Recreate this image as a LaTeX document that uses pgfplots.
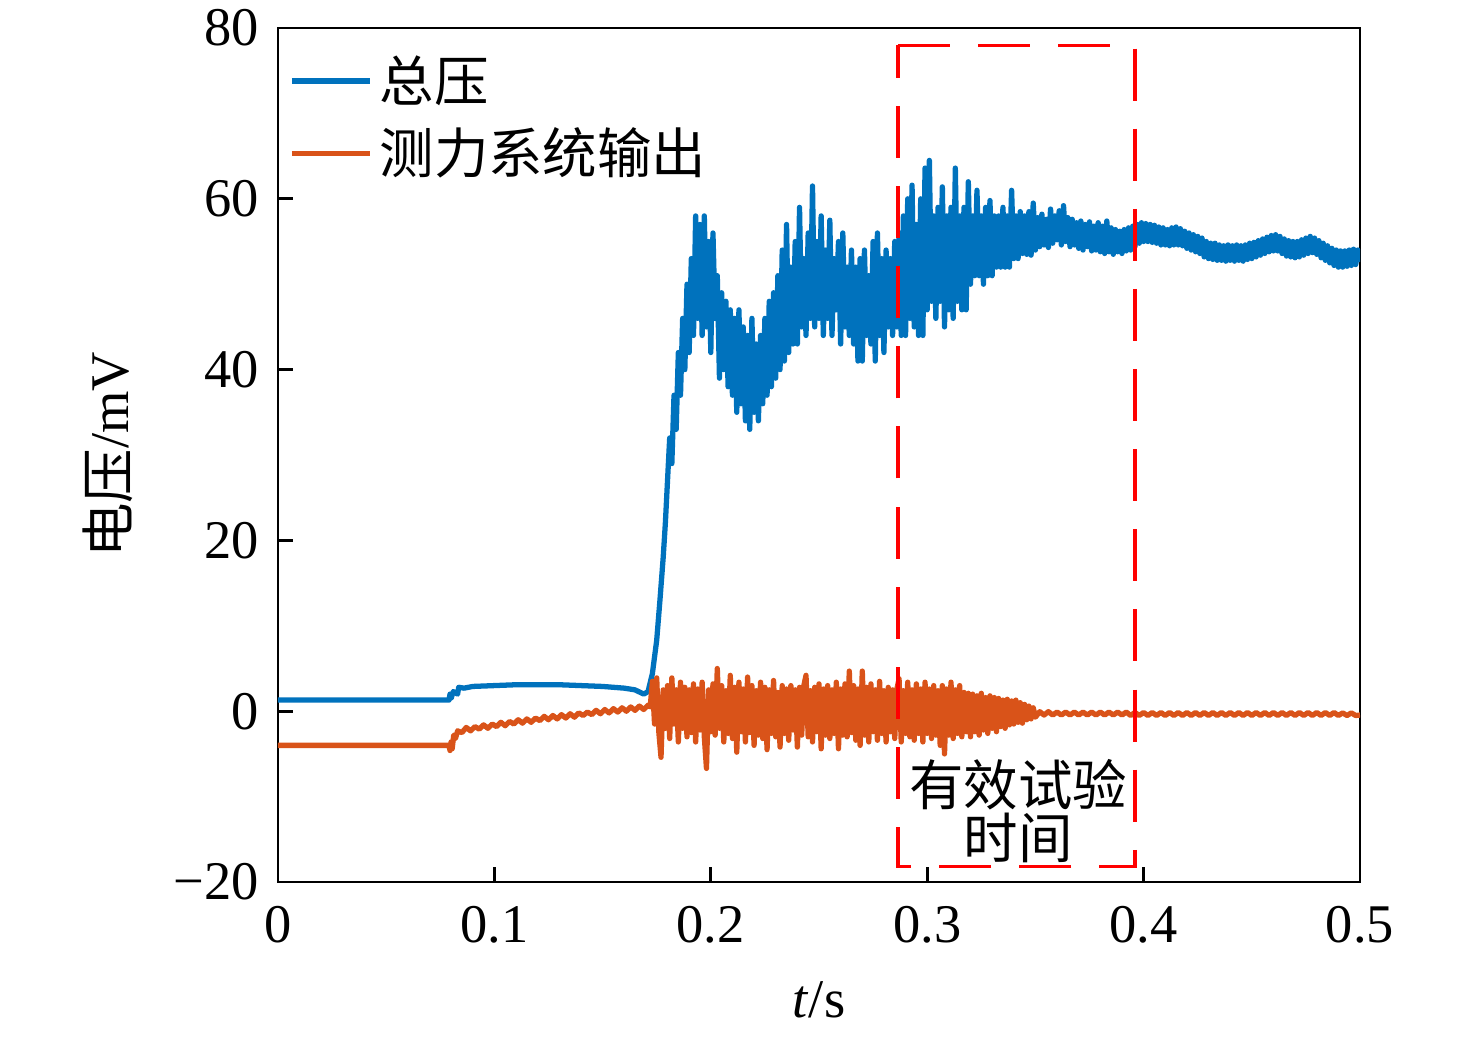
\documentclass[border=0pt]{standalone}
\usepackage{fontspec}
\setmainfont{Liberation Serif}
\newfontfamily\cjk{Noto Sans CJK SC}
\usepackage{pgfplots}
\pgfplotsset{compat=1.18}
\definecolor{mblue}{RGB}{0,114,189}
\definecolor{morange}{RGB}{217,83,25}
\newcommand{\fs}{\fontsize{15.5}{18.6}\selectfont}
\begin{document}
\begin{tikzpicture}
\useasboundingbox (-2.78,-1.54) rectangle (11.98,8.82);
\begin{axis}[
  scale only axis, width=10.82cm, height=8.54cm,
  xmin=0, xmax=0.5, ymin=-20, ymax=80,
  xtick={0,0.1,0.2,0.3,0.4,0.5}, xticklabels={0,0.1,0.2,0.3,0.4,0.5},
  ytick={-20,0,20,40,60,80}, yticklabels={−20,0,20,40,60,80},
  tick align=inside, xtick pos=left, ytick pos=left,
  major tick length=0.15cm,
  tick style={line width=0.8pt, black},
  axis line style={line width=0.8pt},
  tick label style={font=\fs},
  xticklabel style={yshift=-0.12cm},
  yticklabel style={xshift=-0.07cm},
  label style={font=\fs},
  xlabel={\textit{t}/s}, ylabel={{\cjk 电压}/mV},
  xlabel style={at={(axis description cs:0.5,-0.138)}, anchor=center},
  ylabel style={at={(axis description cs:-0.157,0.5)}, anchor=center},
  legend style={at={(axis description cs:0.0,0.985)}, anchor=north west, draw=none, fill=none, font=\fs\cjk, row sep=2pt},
  legend cell align=left,
  legend image code/.code={\draw[#1] (0cm,0cm) -- (0.78cm,0cm);},
]
\addplot[mblue, line width=1.5pt, line join=round, mark=none] coordinates {
(0,1.3) (0.079,1.3) (0.0795,2.0) (0.080,1.5) (0.081,2.3) (0.083,2.0) (0.0835,2.8) (0.086,2.7) (0.09,2.9) (0.1,3.0) (0.11,3.1) (0.12,3.1) (0.13,3.1) (0.14,3.0) (0.15,2.9) (0.16,2.7) (0.165,2.5) (0.169,2.0) (0.171,2.3) (0.173,4.4) (0.175,8.3) (0.1765,13) (0.178,18) (0.179,22)
(0.180,27) (0.181,32) (0.182,29) (0.183,37) (0.184,33) (0.185,42) (0.186,37) (0.187,46) (0.188,40) (0.189,50)
(0.190,42) (0.191,53) (0.192,44) (0.193,58) (0.194,46) (0.195,57) (0.196,44) (0.197,58) (0.198,45) (0.199,55)
(0.200,42) (0.201,56) (0.202,46) (0.203,51) (0.204,39) (0.205,49) (0.206,40) (0.207,48) (0.208,38) (0.209,47)
(0.210,37) (0.211,46) (0.212,35) (0.213,47) (0.214,36) (0.215,45) (0.216,34) (0.217,44) (0.218,33) (0.219,46)
(0.220,35) (0.221,43) (0.222,34) (0.223,44) (0.224,36) (0.225,46) (0.226,37) (0.227,48) (0.228,38) (0.229,49)
(0.230,39) (0.231,51) (0.232,40) (0.233,54) (0.234,41) (0.235,57) (0.236,42) (0.237,52) (0.238,43) (0.239,55)
(0.240,43) (0.241,59) (0.242,45) (0.243,53) (0.244,44) (0.245,56) (0.246,46) (0.247,61.5) (0.248,45) (0.249,55)
(0.250,46) (0.251,58) (0.252,44) (0.253,54) (0.254,46) (0.255,57.5) (0.256,44) (0.257,53) (0.258,47) (0.259,55)
(0.260,43) (0.261,56) (0.262,45) (0.263,52) (0.264,44) (0.265,54) (0.266,43) (0.267,52) (0.268,41) (0.269,53)
(0.270,41) (0.271,54) (0.272,44) (0.273,51) (0.274,43) (0.275,55) (0.276,41) (0.277,56) (0.278,44) (0.279,53)
(0.280,42) (0.281,54) (0.282,45) (0.283,53) (0.284,44) (0.285,55) (0.286,45) (0.287,56) (0.288,44) (0.289,58)
(0.290,44) (0.291,60) (0.292,46) (0.293,61.6) (0.294,45) (0.295,57) (0.296,44) (0.297,60) (0.298,44) (0.299,63.6)
(0.300,47) (0.301,64.5) (0.302,48) (0.303,58) (0.304,46) (0.305,59) (0.306,48) (0.307,61.4) (0.308,45) (0.309,58)
(0.310,47) (0.311,59) (0.312,46) (0.313,63.6) (0.314,48) (0.315,58) (0.316,47) (0.317,59) (0.318,47) (0.319,62)
(0.320,50) (0.321,58) (0.322,51) (0.323,61) (0.324,51) (0.325,58) (0.326,50) (0.327,59) (0.328,51) (0.329,59.8)
(0.330,51) (0.331,58) (0.332,52) (0.333,58) (0.334,52) (0.335,59) (0.336,52) (0.337,58) (0.338,52) (0.339,61)
(0.340,53) (0.341,58) (0.342,53) (0.343,58.5) (0.344,53.6) (0.345,58) (0.346,53.5) (0.347,58.5) (0.348,53.4) (0.349,59.5)
(0.350,54)
(0.351,57.8) (0.352,54.4) (0.353,58.2) (0.354,54.6) (0.355,57.6) (0.356,54.3) (0.357,58.8) (0.358,54.8) (0.359,58.0) (0.360,55.2)
(0.361,58.6) (0.362,54.6) (0.363,59.2) (0.364,55.0) (0.365,57.8) (0.366,54.4) (0.367,57.6) (0.368,54.6) (0.369,57.2) (0.370,54.2)
(0.371,57.4) (0.372,54.0) (0.373,57.0) (0.374,54.4) (0.375,57.3) (0.376,53.9) (0.377,56.8) (0.378,54.0) (0.379,57.2) (0.380,53.8)
(0.381,56.8) (0.382,53.6) (0.383,57.4) (0.384,53.8) (0.385,56.6) (0.386,53.5) (0.387,56.4) (0.388,53.8) (0.389,56.2) (0.390,53.6)
(0.391,56.4) (0.392,53.9) (0.393,56.6) (0.394,54.0) (0.395,56.8) (0.396,54.4) (0.397,57.0) (0.398,54.8) (0.399,57.2) (0.400,55.0)
(0.401,57.1) (0.402,55.0) (0.403,57.0) (0.404,54.9) (0.405,56.9) (0.406,54.8) (0.407,56.7) (0.408,54.6) (0.409,56.6) (0.410,54.6)
(0.411,56.4) (0.412,54.5) (0.413,56.6) (0.414,54.6) (0.415,56.7) (0.416,54.6) (0.417,56.5) (0.418,54.5) (0.419,56.2) (0.420,54.2)
(0.421,56.0) (0.422,54.0) (0.423,55.8) (0.424,53.8) (0.425,55.6) (0.426,53.6) (0.427,55.4) (0.428,53.2) (0.429,55.0) (0.430,53.0)
(0.431,54.8) (0.432,52.9) (0.433,54.8) (0.434,52.8) (0.435,54.6) (0.436,52.8) (0.437,54.5) (0.438,52.7) (0.439,54.6) (0.440,52.8)
(0.441,54.5) (0.442,52.7) (0.443,54.6) (0.444,52.8) (0.445,54.5) (0.446,52.7) (0.447,54.6) (0.448,52.9) (0.449,54.8) (0.450,53.0)
(0.451,54.9) (0.452,53.2) (0.453,55.1) (0.454,53.4) (0.455,55.3) (0.456,53.6) (0.457,55.5) (0.458,53.8) (0.459,55.7) (0.460,53.9)
(0.461,55.8) (0.462,53.9) (0.463,55.6) (0.464,53.6) (0.465,55.3) (0.466,53.3) (0.467,55.1) (0.468,53.2) (0.469,55.0) (0.470,53.1)
(0.471,55.0) (0.472,53.2) (0.473,55.2) (0.474,53.4) (0.475,55.4) (0.476,53.6) (0.477,55.6) (0.478,53.7) (0.479,55.4) (0.480,53.5)
(0.481,55.1) (0.482,53.1) (0.483,54.8) (0.484,52.8) (0.485,54.5) (0.486,52.5) (0.487,54.2) (0.488,52.2) (0.489,54.0) (0.490,52.0)
(0.491,53.9) (0.492,52.0) (0.493,53.9) (0.494,52.1) (0.495,54.0) (0.496,52.2) (0.497,54.1) (0.498,52.3) (0.499,54.0) (0.500,52.6)
};
\addlegendentry{总压}
\addplot[morange, line width=1.5pt, line join=round, mark=none] coordinates {
(0,-4) (0.0790,-4) (0.0795,-4.6) (0.0800,-3.6) (0.0805,-4.4) (0.0812,-2.8) (0.0820,-3.2) (0.0830,-2.3) (0.085,-2.5) (0.087,-1.9) (0.089,-2.3) (0.091,-1.8) (0.093,-2.1) (0.095,-1.6) (0.097,-2.0) (0.099,-1.5) (0.101,-1.8) (0.103,-1.3) (0.105,-1.7) (0.107,-1.2) (0.109,-1.5) (0.111,-1.0) (0.113,-1.4) (0.115,-0.9) (0.117,-1.3) (0.119,-0.8) (0.121,-1.1) (0.123,-0.6) (0.125,-1.0) (0.127,-0.5) (0.129,-0.9) (0.131,-0.4) (0.133,-0.8) (0.135,-0.3) (0.137,-0.7) (0.139,-0.2) (0.141,-0.5) (0.143,-0.1) (0.145,-0.4) (0.147,0.1) (0.149,-0.3) (0.151,0.2) (0.153,-0.2) (0.155,0.3) (0.157,-0.1) (0.159,0.4) (0.161,0.0) (0.163,0.5) (0.165,0.1) (0.167,0.6) (0.169,0.2) (0.171,0.7)
(0.172,0.5) (0.173,3.5) (0.174,-1.5) (0.175,3.9) (0.176,-2.5) (0.177,-5.4) (0.178,2.5) (0.179,-2)
(0.180,3) (0.181,-3.2) (0.182,3.9) (0.183,-1.5) (0.184,2.5) (0.185,-3.6) (0.186,3.4) (0.187,-2) (0.188,2.8) (0.189,-3)
(0.190,2.5) (0.191,-2.5) (0.192,3.2) (0.193,-3.6) (0.194,2.6) (0.195,-2.2) (0.196,3.4) (0.197,-3) (0.198,-6.7) (0.199,2.5)
(0.200,-2.4) (0.201,3.2) (0.202,-2.8) (0.203,5.0) (0.204,-2) (0.205,3) (0.206,-3.6) (0.207,2.4) (0.208,-2.6) (0.209,4.2)
(0.210,-3.2) (0.211,2.8) (0.212,-4.8) (0.213,3.4) (0.214,-2.4) (0.215,2.6) (0.216,-3.6) (0.217,4) (0.218,-2.5) (0.219,3)
(0.220,-4) (0.221,2.4) (0.222,-2.8) (0.223,3.4) (0.224,-3.2) (0.225,2.8) (0.226,-4.5) (0.227,2.5) (0.228,-2.6) (0.229,3.6)
(0.230,-3) (0.231,2.2) (0.232,-4.2) (0.233,3) (0.234,-2.6) (0.235,2.6) (0.236,-3.4) (0.237,3) (0.238,-2.2) (0.239,2.5)
(0.240,-4.2) (0.241,2.8) (0.242,-2.8) (0.243,3) (0.244,4.2) (0.245,-3) (0.246,2.4) (0.247,-3.6) (0.248,2.8) (0.249,-2.4)
(0.250,3.2) (0.251,-4.4) (0.252,2.6) (0.253,-2.8) (0.254,3) (0.255,-3.2) (0.256,2.5) (0.257,-2.6) (0.258,3.4) (0.259,-4.4)
(0.260,2.6) (0.261,-2.8) (0.262,3.2) (0.263,-3) (0.264,4.7) (0.265,-2.5) (0.266,3) (0.267,-3.4) (0.268,2.6) (0.269,-4)
(0.270,4.7) (0.271,-2.8) (0.272,2.8) (0.273,-3.6) (0.274,3.2) (0.275,-2.4) (0.276,2.5) (0.277,-3.4) (0.278,3.5) (0.279,-2.6)
(0.280,2.4) (0.281,-3.6) (0.282,2.8) (0.283,-2.4) (0.284,2.5) (0.285,-3.2) (0.286,2.6) (0.287,3.8) (0.288,-3.6) (0.289,2.4)
(0.290,-2.6) (0.291,3.4) (0.292,-3) (0.293,2.5) (0.294,-3.4) (0.295,3.2) (0.296,-2.6) (0.297,2.6) (0.298,-3.6) (0.299,3.4)
(0.300,-2.6) (0.301,2.6) (0.302,-3.2) (0.303,3) (0.304,-2.8) (0.305,2.4) (0.306,-4) (0.307,3) (0.308,-5) (0.309,2.6)
(0.310,-2.8) (0.311,3.4) (0.312,-3.2) (0.313,2.5) (0.314,-2.6) (0.315,3) (0.316,-3) (0.317,2.2) (0.318,-2.4) (0.319,2.1)
(0.320,-3) (0.321,2) (0.322,-2.4) (0.323,1.8) (0.324,-2.8) (0.325,2.1) (0.326,-2.2) (0.327,1.6) (0.328,-2.6) (0.329,1.8)
(0.330,-2) (0.331,1.6) (0.332,-2.4) (0.333,1.5) (0.334,-1.8) (0.335,1.3) (0.336,-2) (0.337,1.4) (0.338,-1.6) (0.339,1.2)
(0.340,-1.5) (0.341,1.3) (0.342,-1.3) (0.343,1.0) (0.344,-1.4) (0.345,0.8) (0.346,-1.0) (0.347,0.6) (0.348,-0.9) (0.349,0.4)
(0.350,-0.7) (0.352,-0.05) (0.354,-0.45) (0.356,-0.05) (0.358,-0.45) (0.360,-0.1) (0.362,-0.45) (0.364,-0.1) (0.366,-0.45) (0.368,-0.1)
(0.370,-0.45) (0.372,-0.1) (0.374,-0.45) (0.376,-0.1) (0.378,-0.45) (0.380,-0.1) (0.382,-0.45) (0.384,-0.1) (0.386,-0.45) (0.388,-0.1)
(0.390,-0.45) (0.392,-0.1) (0.394,-0.5) (0.396,-0.15) (0.398,-0.5) (0.400,-0.15) (0.402,-0.5) (0.404,-0.15) (0.406,-0.5) (0.408,-0.15)
(0.410,-0.5) (0.412,-0.15) (0.414,-0.5) (0.416,-0.15) (0.418,-0.5) (0.420,-0.15) (0.422,-0.5) (0.424,-0.15) (0.426,-0.5) (0.428,-0.15)
(0.430,-0.5) (0.432,-0.15) (0.434,-0.5) (0.436,-0.15) (0.438,-0.5) (0.440,-0.15) (0.442,-0.5) (0.444,-0.15) (0.446,-0.5) (0.448,-0.15)
(0.450,-0.5) (0.452,-0.15) (0.454,-0.5) (0.456,-0.15) (0.458,-0.5) (0.460,-0.15) (0.462,-0.5) (0.464,-0.15) (0.466,-0.5) (0.468,-0.15)
(0.470,-0.5) (0.472,-0.15) (0.474,-0.5) (0.476,-0.15) (0.478,-0.5) (0.480,-0.15) (0.482,-0.5) (0.484,-0.15) (0.486,-0.5) (0.488,-0.15)
(0.490,-0.5) (0.492,-0.2) (0.494,-0.5) (0.496,-0.2) (0.498,-0.5) (0.500,-0.45)
};
\addlegendentry{测力系统输出}
\addplot[red, line width=0.9pt, dash pattern=on 14.8pt off 8pt, mark=none, forget plot] coordinates {
(0.2865,78) (0.396,78) (0.396,-18.15) (0.2865,-18.15) (0.2865,78)
};
\node[font=\fontsize{15.5}{15}\selectfont\cjk, align=center] at (axis cs:0.342,-11.7) {有效试验\\时间};
\end{axis}
\end{tikzpicture}
\end{document}
